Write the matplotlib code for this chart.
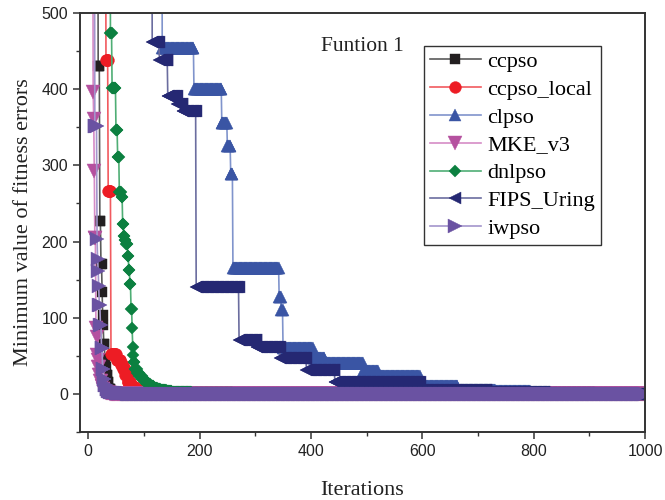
import numpy as np
import matplotlib.pyplot as plt
from matplotlib.ticker import MultipleLocator

iterations = np.arange(1, 1001)

# best-so-far fitness error: iteration at which each new value appears, and that value
ccpso_it = [1, 18, 21, 23, 25, 26, 27, 28, 30, 32, 33, 35, 37, 41, 50, 70]
ccpso_val = [800, 431, 227, 170, 134, 104, 91, 66, 46, 35, 25, 15, 7, 3, 1.5, 0.5]

local_it = [1, 32, 36, 41, 51, 59, 63, 67, 71, 77, 85, 95, 110, 150]
local_val = [800, 438, 267, 52, 45, 38, 33, 25, 16, 9, 5, 3, 1.5, 0.5]

clpso_it = [1, 133, 190, 240, 250, 256, 260, 343, 347, 350, 404, 425, 494, 521, 596, 664, 731, 794, 919]
clpso_val = [900, 454, 400, 355, 325, 289, 165, 127, 110, 60, 47, 41, 30, 24, 10.5, 5, 4, 1.5, 0.5]

mke_it = [1, 9, 10, 11, 12, 14, 15, 16, 17, 18, 20, 22, 24, 26, 28, 32, 40]
mke_val = [800, 396, 361, 293, 204, 86, 75, 51, 45, 35, 25, 17, 10, 6, 3, 1, 0]

dnl_it = [1, 40, 43, 50, 53, 56, 60, 62, 64, 66, 68, 71, 73, 75, 77, 79, 80, 81, 82,
          84, 88, 92, 97, 102, 107, 112, 118, 124, 130, 140, 150, 165, 185, 210, 260]
dnl_val = [900, 474, 402, 346, 311, 265, 258, 223, 207, 202, 197, 181, 163, 144, 112, 87, 62, 51, 42,
           33, 28, 24, 20, 16, 13, 10, 8, 6, 5, 4, 3, 2, 1.5, 1, 0.5]

fips_it = [1, 115, 128, 143, 160, 170, 194, 271, 303, 345, 392, 443, 596, 716, 820, 900]
fips_val = [900, 462, 438, 391, 380, 371, 140, 71, 61, 47, 32, 16, 5, 2, 1, 0.5]

iw_it = [1, 12, 16, 17, 18, 19, 20, 22, 24, 26, 28, 30, 33, 36, 40, 50, 70]
iw_val = [800, 352, 203, 177, 161, 141, 117, 91, 60, 33, 20, 12, 7, 4, 2, 1, 0.5]


def hold(steps_it, steps_val):
    # the best value is kept until the next improvement
    idx = np.searchsorted(steps_it, iterations, side='right') - 1
    return np.asarray(steps_val, dtype=float)[idx]


series = [
    ('ccpso', ccpso_it, ccpso_val, '#231f20', '#5a5a5a', 's', 7),
    ('ccpso_local', local_it, local_val, '#ed1c24', '#f15a5f', 'o', 8.5),
    ('clpso', clpso_it, clpso_val, '#3a55a4', '#8094cc', '^', 9),
    ('MKE_v3', mke_it, mke_val, '#b5519f', '#d58cc6', 'v', 9.5),
    ('dnlpso', dnl_it, dnl_val, '#0c8040', '#4fae75', 'D', 6.5),
    ('FIPS_Uring', fips_it, fips_val, '#252873', '#6b6d9f', '<', 9),
    ('iwpso', iw_it, iw_val, '#6a52a2', '#a395cc', '>', 10),
]

fig = plt.figure(figsize=(6.65, 5), dpi=100)
ax = fig.add_axes([0.120, 0.136, 0.850, 0.838])

for name, its, vals, mcol, lcol, mk, ms in series:
    ax.plot(iterations, hold(its, vals), color=lcol, lw=1.2, marker=mk, ms=ms,
            mfc=mcol, mec=mcol, mew=0.3, label=name)

ax.set_xlim(-15, 1000)
ax.set_ylim(-50, 500)
ax.xaxis.set_major_locator(MultipleLocator(200))
ax.xaxis.set_minor_locator(MultipleLocator(100))
ax.yaxis.set_major_locator(MultipleLocator(100))
ax.yaxis.set_minor_locator(MultipleLocator(50))
ax.tick_params(which='major', direction='out', length=5, width=1.1, color='#333333')
ax.tick_params(which='minor', direction='out', length=3, width=1.0, color='#333333')
for lab in ax.get_xticklabels() + ax.get_yticklabels():
    lab.set_family('Liberation Sans')
    lab.set_fontsize(11.5)
    lab.set_color('#222222')
for sp in ax.spines.values():
    sp.set_linewidth(1.4)
    sp.set_color('#333333')

serif = 'Liberation Serif'
ax.set_xlabel('Iterations', family=serif, fontsize=16, labelpad=16, color='#222222')
ax.set_ylabel('Minimum value of fitness errors', family=serif, fontsize=16, labelpad=6, color='#222222')
ax.text(0.4265, 0.919, 'Funtion 1', transform=ax.transAxes, family=serif,
        fontsize=15.5, va='center', ha='left', color='#222222')

leg = ax.legend(loc='upper left', bbox_to_anchor=(0.609, 0.922), numpoints=1,
                prop={'family': serif, 'size': 16}, handlelength=2.3, handletextpad=0.3,
                labelspacing=0.33, borderpad=0.25, borderaxespad=0, fancybox=False,
                framealpha=1, edgecolor='#333333')
leg.get_frame().set_linewidth(1.0)

fig.savefig('out.png', dpi=100)
